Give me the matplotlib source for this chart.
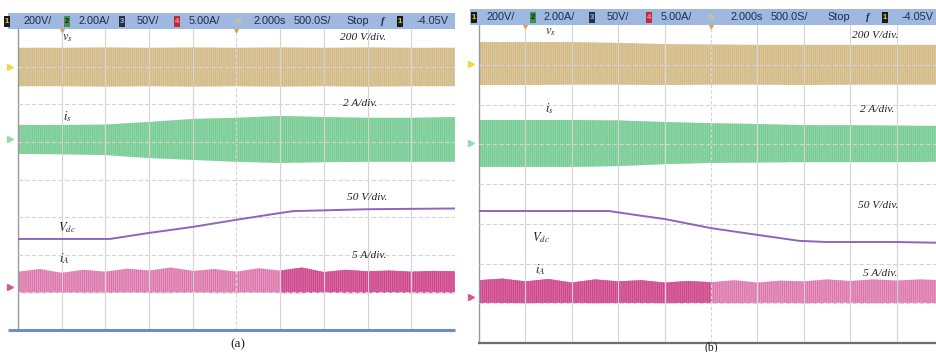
import matplotlib
matplotlib.use("Agg")
import matplotlib.pyplot as plt
from matplotlib.patches import Rectangle

plt.rcParams['hatch.linewidth'] = 0.5
plt.rcParams['mathtext.fontset'] = 'stix'

# envelope sample points in divisions (x: 0..10 div, y: 0..8 div)
x_env = [0, 1, 2, 3, 4, 5, 6, 7, 8, 9, 10]
x_ia = [0, 0.5, 1, 1.5, 2, 2.5, 3, 3.5, 4, 4.5, 5, 5.5, 6, 6.5, 7, 7.5, 8, 8.5, 9, 9.5, 10]

# (a) Vdc rising
a_vs_top = [7.50, 7.50, 7.51, 7.50, 7.51, 7.50, 7.51, 7.50, 7.51, 7.50, 7.50]
a_vs_bot = [6.48, 6.48, 6.47, 6.48, 6.47, 6.48, 6.47, 6.48, 6.47, 6.48, 6.48]
a_is_top = [5.45, 5.45, 5.46, 5.53, 5.61, 5.64, 5.69, 5.66, 5.64, 5.64, 5.66]
a_is_bot = [4.68, 4.67, 4.65, 4.57, 4.52, 4.47, 4.44, 4.46, 4.47, 4.47, 4.47]
a_vdc_x = [0, 1, 2.1, 3, 4, 5, 6, 6.3, 7, 8, 9, 10]
a_vdc_y = [2.42, 2.42, 2.42, 2.58, 2.74, 2.93, 3.11, 3.16, 3.18, 3.21, 3.22, 3.23]
a_ia_top = [1.55, 1.62, 1.52, 1.60, 1.55, 1.63, 1.58, 1.66, 1.57, 1.62, 1.55,
            1.64, 1.58, 1.66, 1.54, 1.60, 1.56, 1.58, 1.55, 1.57, 1.56]
a_ia_bot = [0.98, 0.98, 0.99, 0.98, 0.98, 0.99, 0.98, 0.98, 0.99, 0.98, 0.98,
            0.99, 0.98, 0.98, 0.99, 0.98, 0.98, 0.99, 0.98, 0.98, 0.98]

# (b) Vdc falling
b_vs_top = [7.57, 7.57, 7.57, 7.55, 7.52, 7.51, 7.50, 7.50, 7.50, 7.50, 7.50]
b_vs_bot = [6.49, 6.49, 6.50, 6.50, 6.49, 6.50, 6.50, 6.49, 6.50, 6.50, 6.50]
b_is_top = [5.61, 5.61, 5.61, 5.60, 5.56, 5.53, 5.51, 5.48, 5.48, 5.47, 5.46]
b_is_bot = [4.43, 4.43, 4.43, 4.45, 4.50, 4.53, 4.54, 4.55, 4.55, 4.55, 4.56]
b_vdc_x = [0, 1, 2, 2.8, 3.5, 4, 5, 6, 6.9, 7.5, 8, 9, 10]
b_vdc_y = [3.32, 3.32, 3.32, 3.32, 3.20, 3.12, 2.89, 2.72, 2.57, 2.54, 2.54, 2.54, 2.52]
b_ia_top = [1.58, 1.62, 1.55, 1.61, 1.52, 1.60, 1.55, 1.58, 1.52, 1.56, 1.53,
            1.58, 1.52, 1.57, 1.55, 1.60, 1.56, 1.60, 1.57, 1.60, 1.58]
b_ia_bot = [1.01, 1.01, 1.00, 1.01, 1.01, 1.00, 1.01, 1.01, 1.00, 1.01, 1.01,
            1.00, 1.01, 1.01, 1.00, 1.01, 1.01, 1.00, 1.01, 1.01, 1.00]

scales = ["200 V/div.", "2 A/div.", "50 V/div.", "5 A/div."]
bar_items = ["200V/", "2.00A/", "50V/", "5.00A/", "2.000s", "500.0S/", "Stop", "-4.05V"]

W, H = 937, 352
TAN, TAN_H = '#dcc89c', '#cdb27c'
GRN, GRN_H = '#8fd6a6', '#6cc68c'
PNK, PNK_H = '#e698c2', '#d7659f'
PNK_D, PNK_DH = '#d85c9c', '#c2337c'
PUR = '#8c66bb'
BAR = '#9fb8df'
BAR_TXT = '#1d2b4f'


def panel(fig, px_l, px_t, px_w, px_h, xmax, d, dark):
    ax = fig.add_axes([px_l / W, 1 - (px_t + px_h) / H, px_w / W, px_h / H])
    ax.set_xlim(0, xmax)
    ax.set_ylim(0, 8)
    ax.set_xticks([])
    ax.set_yticks([])
    for s in ['top', 'right', 'bottom']:
        ax.spines[s].set_visible(False)
    ax.spines['left'].set_color('#9a9a9a')
    ax.spines['left'].set_linewidth(1.0)
    for v in range(1, 11):
        ax.axvline(v, color='#d4d4d4', lw=0.8, ls='-' if v != 5 else (0, (3, 2)), zorder=3)
    for h in range(1, 8):
        ax.axhline(h, color='#d4d4d4', lw=0.8, ls=(0, (4, 2)), zorder=3)

    ax.fill_between(x_env, d['vs_bot'], d['vs_top'], facecolor=TAN, edgecolor=TAN_H,
                    hatch='||||||||', lw=0, zorder=2)
    ax.fill_between(x_env, d['is_bot'], d['is_top'], facecolor=GRN, edgecolor=GRN_H,
                    hatch='||||||||', lw=0, zorder=2)
    ax.fill_between(x_ia, d['ia_bot'], d['ia_top'], facecolor=PNK, edgecolor=PNK_H,
                    hatch='||||||||', lw=0, zorder=2)
    i0, i1 = dark
    ax.fill_between(x_ia[i0:i1], d['ia_bot'][i0:i1], d['ia_top'][i0:i1],
                    facecolor=PNK_D, edgecolor=PNK_DH, hatch='||||||||', lw=0,
                    alpha=0.8, zorder=2)
    ax.plot(d['vdc_x'], d['vdc_y'], color=PUR, lw=1.4, zorder=4)

    # channel reference markers on the left edge
    ax.plot([-0.18], [(d['vs_top'][0] + d['vs_bot'][0]) / 2], marker='>', ms=5,
            color='#f2d64a', clip_on=False, zorder=5)
    ax.plot([-0.18], [(d['is_top'][0] + d['is_bot'][0]) / 2], marker='>', ms=5,
            color='#9ad9a8', clip_on=False, zorder=5)
    ax.plot([-0.18], [d['ia_bot'][0] + 0.15], marker='>', ms=5,
            color='#d05a9a', clip_on=False, zorder=5)
    # trigger markers
    ax.plot([1, 5], [8, 8], ls='none', marker='v', ms=4, color='#e49a4a',
            clip_on=False, zorder=5)
    return ax


def top_bar(ov, x0, x1, y0, pos):
    ov.add_patch(Rectangle((x0, y0), x1 - x0, 16, facecolor=BAR, edgecolor='none'))
    yc = y0 + 8.5
    boxes = [(pos[0], '#1a1a1a', '#e6d34a', '1'), (pos[2], '#3f8f4f', '#102010', '2'),
             (pos[4], '#2a2f45', '#9fb8df', '3'), (pos[6], '#c22a3a', '#f0a0a0', '4'),
             (pos[12], '#1a1a1a', '#e6d34a', '1')]
    for bx, fc, tc, t in boxes:
        ov.add_patch(Rectangle((bx - 3, y0 + 2.5), 6, 11.5, facecolor=fc, edgecolor='none'))
        ov.text(bx, yc, t, color=tc, fontsize=5.5, ha='center', va='center',
                family='Liberation Sans', fontweight='bold')
    txt_pos = [pos[1], pos[3], pos[5], pos[7], pos[9], pos[10], pos[11], pos[13]]
    for tx, t in zip(txt_pos, bar_items):
        ov.text(tx, yc, t, color=BAR_TXT, fontsize=7.8, ha='left', va='center',
                family='Liberation Sans')
    ov.text(pos[8], yc, '☼', color='#e8d060', fontsize=8, ha='center', va='center',
            family='DejaVu Sans')
    ov.text(pos[12] - 17, yc, 'f', color=BAR_TXT, fontsize=7.6, ha='center', va='center',
            family='Liberation Serif', style='italic', fontweight='bold')


def labels(ov, lab, sc):
    serif = dict(family='Liberation Serif', style='italic', fontsize=8.2, color='#222222')
    names = [r'$v_s$', r'$i_s$', r'$V_{dc}$', r'$i_A$']
    for (x, y), n in zip(lab, names):
        ov.text(x, y, n, fontsize=9, ha='left', va='center', color='#222222')
    for (x, y), t in zip(sc, scales):
        ov.text(x, y, t, ha='left', va='center', **serif)


fig = plt.figure(figsize=(W / 100, H / 100), dpi=100)
fig.patch.set_facecolor('white')

data_a = dict(vs_top=a_vs_top, vs_bot=a_vs_bot, is_top=a_is_top, is_bot=a_is_bot,
              vdc_x=a_vdc_x, vdc_y=a_vdc_y, ia_top=a_ia_top, ia_bot=a_ia_bot)
data_b = dict(vs_top=b_vs_top, vs_bot=b_vs_bot, is_top=b_is_top, is_bot=b_is_bot,
              vdc_x=b_vdc_x, vdc_y=b_vdc_y, ia_top=b_ia_top, ia_bot=b_ia_bot)

ax_a = panel(fig, 18, 29, 437, 301, 10, data_a, (12, 21))
ax_b = panel(fig, 479, 25, 458, 318, 458 / 46.4, data_b, (0, 11))

ov = fig.add_axes([0, 0, 1, 1], zorder=10)
ov.set_xlim(0, W)
ov.set_ylim(H, 0)
ov.axis('off')
ov.patch.set_alpha(0)

top_bar(ov, 8, 455, 13, [7, 24, 67, 79, 122, 137, 177, 189, 237, 254, 294, 346, 400, 417])
top_bar(ov, 470, 937, 9, [474, 487, 533, 544, 592, 607, 649, 661, 710, 731, 771, 827, 885, 902])

labels(ov, [(62, 38), (63, 117), (58, 228), (59, 259)],
       [(340, 37), (343, 103), (347, 198), (352, 256)])
labels(ov, [(545, 32), (545, 109), (532, 238), (535, 270)],
       [(852, 35), (860, 110), (858, 205), (863, 273)])

# bottom lines
ov.plot([8, 455], [330, 330], color='#6f8cc6', lw=2.2, solid_capstyle='butt')
ov.plot([478, 937], [343, 343], color='#6e6e6e', lw=1.6, solid_capstyle='butt')

ov.text(238, 344, '(a)', ha='center', va='center', fontsize=9.5,
        family='Liberation Serif', color='#222222')
ov.text(711, 347, '(b)', ha='center', va='center', fontsize=8.5,
        family='Liberation Serif', color='#222222')

fig.savefig('out.png', dpi=100, facecolor='white')
